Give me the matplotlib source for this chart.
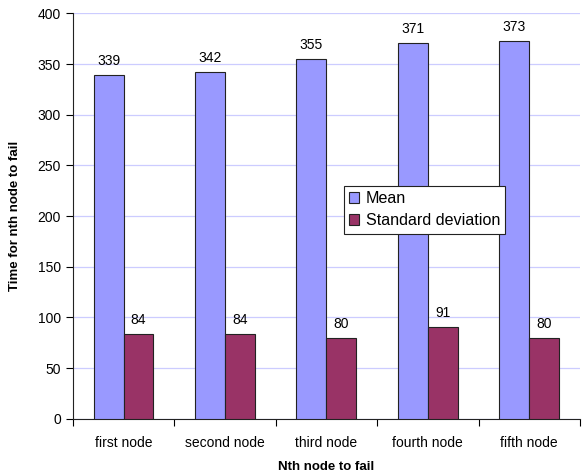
import matplotlib
matplotlib.use("Agg")
import matplotlib.pyplot as plt
import numpy as np

categories = ["first node", "second node", "third node", "fourth node", "fifth node"]
mean_vals = [339, 342, 355, 371, 373]
std_vals = [84, 84, 80, 91, 80]
y_ticks = [0, 50, 100, 150, 200, 250, 300, 350, 400]

plt.rcParams['font.family'] = ['Liberation Sans', 'DejaVu Sans']

fig = plt.figure(figsize=(5.87, 4.76), dpi=100)
ax = fig.add_axes([0.124, 0.120, 0.864, 0.852])

x = np.arange(len(categories))
w = 0.295
b1 = ax.bar(x - w/2, mean_vals, w, color="#9999FF", edgecolor="#222222", linewidth=0.8, label="Mean", zorder=3)
b2 = ax.bar(x + w/2, std_vals, w, color="#993366", edgecolor="#222222", linewidth=0.8, label="Standard deviation", zorder=3)

for rect, v in zip(b1, mean_vals):
    ax.text(rect.get_x() + rect.get_width()/2, v + 7, str(v), ha="center", va="bottom", fontsize=10)
for rect, v in zip(b2, std_vals):
    ax.text(rect.get_x() + rect.get_width()/2, v + 7, str(v), ha="center", va="bottom", fontsize=10)

ax.set_xlim(-0.5, len(categories) - 0.5)
ax.set_ylim(0, 400)
ax.set_yticks(y_ticks)
ax.set_xticks(x)
ax.set_xticklabels(categories, fontsize=10)
ax.set_xticks(np.arange(-0.5, len(categories), 1), minor=True)
ax.tick_params(axis="x", which="major", length=0, pad=12)
ax.tick_params(axis="x", which="minor", length=5, width=0.8, direction="out")
ax.tick_params(axis="y", length=5, width=0.8, labelsize=10, direction="out")

ax.yaxis.grid(True, color="#ccccff", linewidth=0.9, zorder=0)
ax.set_axisbelow(True)
for s in ["top", "right"]:
    ax.spines[s].set_visible(False)
for s in ["left", "bottom"]:
    ax.spines[s].set_linewidth(0.8)
    ax.spines[s].set_color("#222222")

ax.set_ylabel("Time for nth node to fail", fontsize=9.5, fontweight="bold", labelpad=12)
ax.set_xlabel("Nth node to fail", fontsize=9.5, fontweight="bold", labelpad=8)

leg = ax.legend(loc="upper left", bbox_to_anchor=(0.5345, 0.575), fontsize=11.6, frameon=True,
                fancybox=False, edgecolor="#222222", handlelength=0.62, handleheight=0.62,
                handletextpad=0.4, borderpad=0.33, labelspacing=0.45, borderaxespad=0)
leg.get_frame().set_linewidth(0.8)
leg.get_frame().set_alpha(1)

fig.savefig("out.png", dpi=100)
